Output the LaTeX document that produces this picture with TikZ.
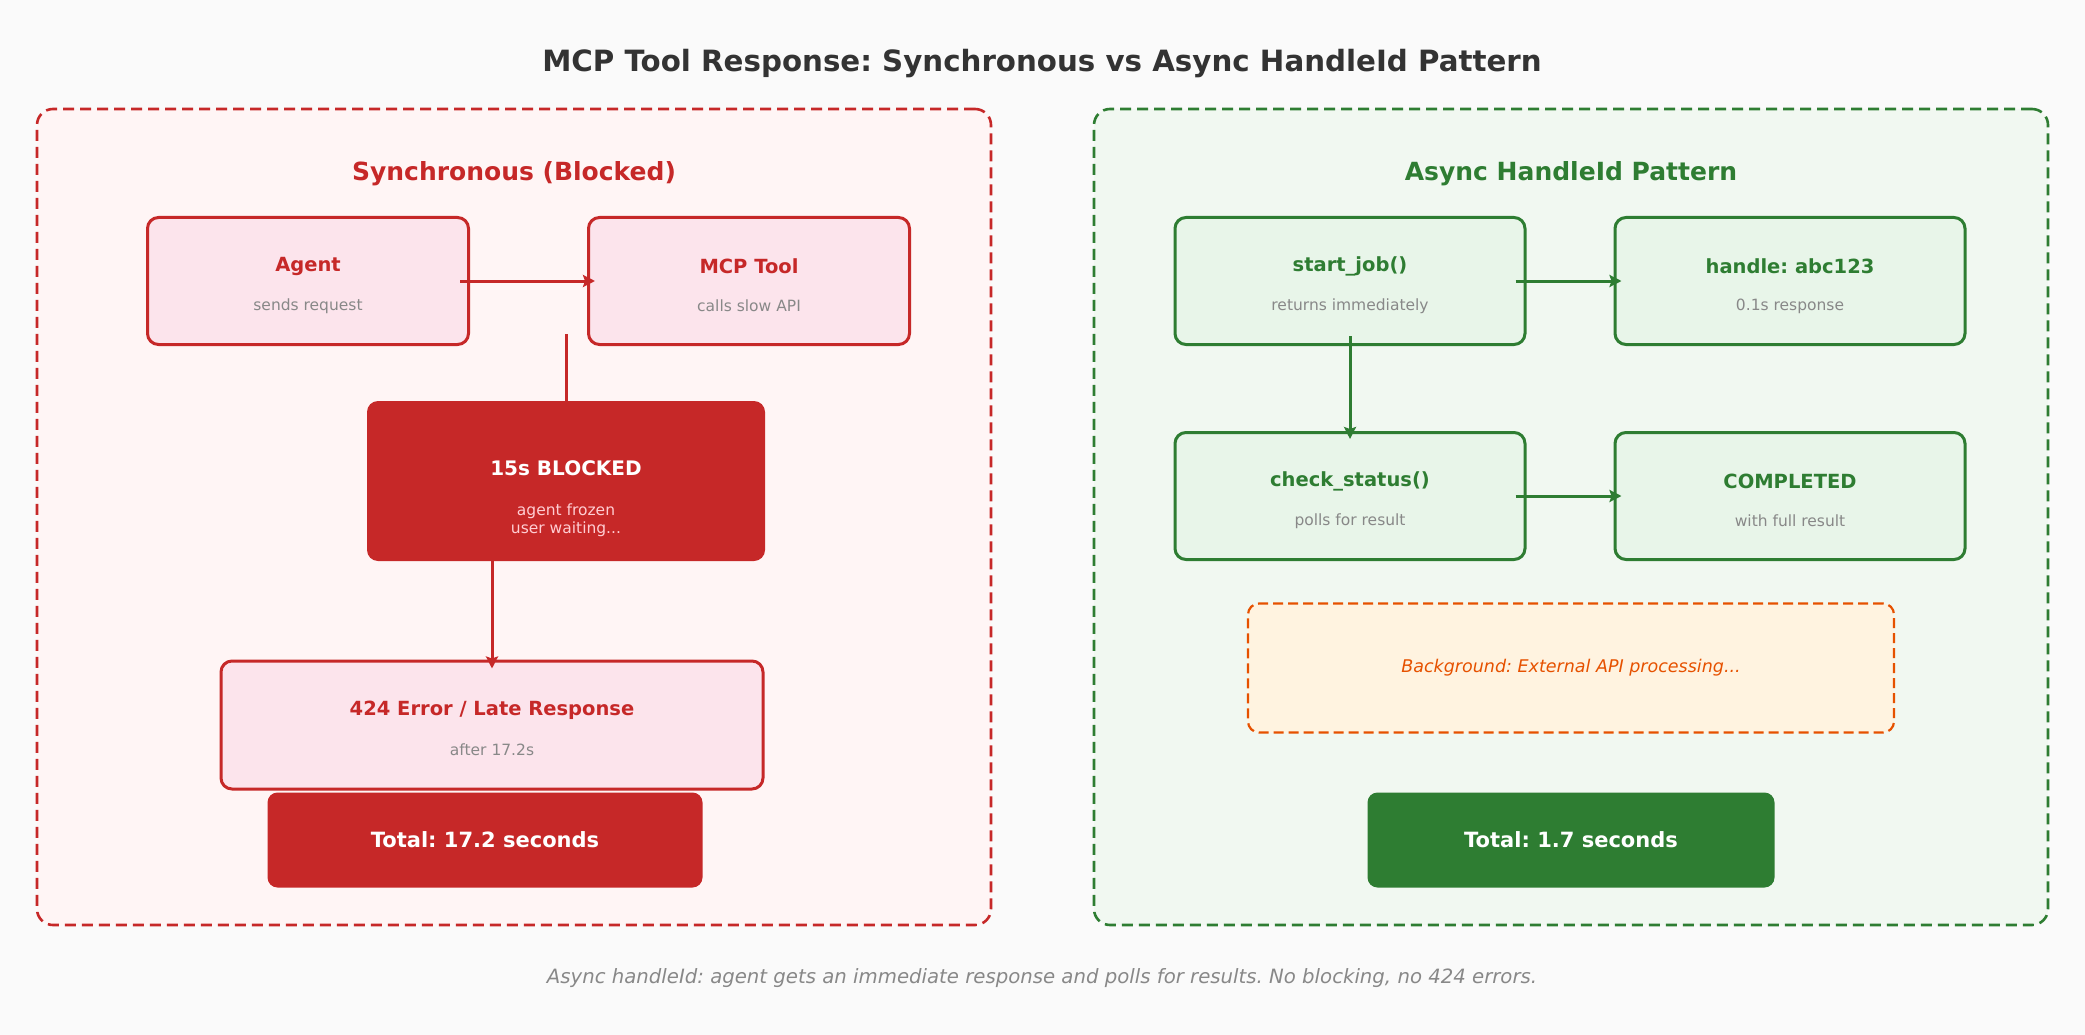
\documentclass[tikz,border=0pt]{standalone}
\usepackage{fontspec}
\setmainfont{DejaVu Sans}
\usetikzlibrary{arrows.meta,calc}
\frenchspacing
\definecolor{pagebg}{HTML}{FAFAFA}
\definecolor{titlec}{HTML}{333333}
\definecolor{redc}{HTML}{C62828}
\definecolor{redpanel}{HTML}{FFF5F5}
\definecolor{redbox}{HTML}{FCE4EC}
\definecolor{greenc}{HTML}{2E7D32}
\definecolor{greenpanel}{HTML}{F1F8F1}
\definecolor{greenbox}{HTML}{E8F5E9}
\definecolor{orangec}{HTML}{E65100}
\definecolor{orangebox}{HTML}{FFF3E0}
\definecolor{subgray}{HTML}{888888}
\definecolor{pinktext}{HTML}{FFCDD2}
\begin{document}
\begin{tikzpicture}[x=1pt,y=-1pt,
  panelbox/.style={draw, line width=2.6pt, dash pattern=on 11pt off 6pt, rounded corners=16pt, inner sep=0pt},
  flowbox/.style={draw, line width=3pt, rounded corners=11pt, inner sep=0pt},
  solidbox/.style={rounded corners=11pt, inner sep=0pt},
  mainlbl/.style={font=\bfseries\fontsize{19.5}{23}\selectfont, inner sep=0pt},
  sublbl/.style={font=\fontsize{15.5}{18}\selectfont, text=subgray, inner sep=0pt},
  arr/.style={line width=3pt, -{Stealth[length=12pt,width=12pt,inset=2pt]}},
  plain/.style={line width=3pt}
]
\fill[pagebg] (0,0) rectangle (2085,1035);
\useasboundingbox (0,0) rectangle (2085,1035);

% title
\node[font=\bfseries\fontsize{29.3}{34}\selectfont, text=titlec] (title) at (1042,64) {MCP Tool Response: Synchronous vs Async HandleId Pattern};

% panels
\node[panelbox, draw=redc, fill=redpanel, minimum width=954pt, minimum height=816pt] (lpanel) at (514,517) {};
\node[panelbox, draw=greenc, fill=greenpanel, minimum width=954pt, minimum height=816pt] (rpanel) at (1571,517) {};

\node[font=\bfseries\fontsize{25}{30}\selectfont, text=redc] (ltitle) at (514,174) {Synchronous (Blocked)};
\node[font=\bfseries\fontsize{25}{30}\selectfont, text=greenc] (rtitle) at (1571,174) {Async HandleId Pattern};

% ---------- left side ----------
\node[flowbox, draw=redc, fill=redbox, minimum width=321pt, minimum height=127pt] (agent) at (308,281) {};
\node[mainlbl, text=redc] (agentl) at ($(agent.center)+(0,-15)$) {Agent};
\node[sublbl] (agents) at ($(agent.center)+(0,25)$) {sends request};

\node[flowbox, draw=redc, fill=redbox, minimum width=321pt, minimum height=127pt] (mcp) at (749,281) {};
\node[mainlbl, text=redc] (mcpl) at ($(mcp.center)+(0,-15)$) {MCP Tool};
\node[sublbl] (mcps) at ($(mcp.center)+(0,25)$) {calls slow API};

\draw[arr, redc] ($(agent.east)+(-10,0)$) -- ($(mcp.west)+(8,0)$);

\node[solidbox, fill=redc, minimum width=398pt, minimum height=160pt] (blocked) at (566,481) {};
\node[font=\bfseries\fontsize{20}{24}\selectfont, text=white, inner sep=0pt] (blockedl) at ($(blocked.center)+(0,-13)$) {15s BLOCKED};
\node[font=\fontsize{15.5}{18}\selectfont, text=pinktext, align=center, inner sep=0pt] (blockeds) at ($(blocked.center)+(0,39)$) {agent frozen\\user waiting...};

\coordinate (wait) at (566,334);
\draw[arr, redc] (wait) -- ($(blocked.north)+(0,62)$);

\node[flowbox, draw=redc, fill=redbox, minimum width=542pt, minimum height=128pt] (error) at (492,725) {};
\node[mainlbl, text=redc] (errorl) at ($(error.center)+(0,-15)$) {424 Error / Late Response};
\node[sublbl] (errors) at ($(error.center)+(0,25)$) {after 17.2s};

\draw[arr, redc] (blocked.south -| error.north) -- ($(error.north)+(0,9)$);

\node[solidbox, rounded corners=10pt, fill=redc, minimum width=435pt, minimum height=95pt] (ltotal) at (485,840) {};
\node[font=\bfseries\fontsize{21}{25}\selectfont, text=white, inner sep=0pt] (ltotall) at (ltotal.center) {Total: 17.2 seconds};

% ---------- right side ----------
\node[flowbox, draw=greenc, fill=greenbox, minimum width=350pt, minimum height=127pt] (start) at (1350,281) {};
\node[mainlbl, text=greenc] (startl) at ($(start.center)+(0,-15)$) {start\_job()};
\node[sublbl] (starts) at ($(start.center)+(0,25)$) {returns immediately};

\node[flowbox, draw=greenc, fill=greenbox, minimum width=350pt, minimum height=127pt] (handle) at (1790,281) {};
\node[mainlbl, text=greenc] (handlel) at ($(handle.center)+(0,-15)$) {handle: abc123};
\node[sublbl] (handles) at ($(handle.center)+(0,25)$) {0.1s response};

\node[flowbox, draw=greenc, fill=greenbox, minimum width=350pt, minimum height=127pt] (check) at (1350,496) {};
\node[mainlbl, text=greenc] (checkl) at ($(check.center)+(0,-15)$) {check\_status()};
\node[sublbl] (checks) at ($(check.center)+(0,25)$) {polls for result};

\node[flowbox, draw=greenc, fill=greenbox, minimum width=350pt, minimum height=127pt] (done) at (1790,496) {};
\node[mainlbl, text=greenc] (donel) at ($(done.center)+(0,-15)$) {COMPLETED};
\node[sublbl] (dones) at ($(done.center)+(0,25)$) {with full result};

\draw[arr, greenc] ($(start.east)+(-11,0)$) -- ($(handle.west)+(8,0)$);
\draw[arr, greenc] ($(check.east)+(-11,0)$) -- ($(done.west)+(8,0)$);
\draw[arr, greenc] ($(start.south)+(0,-10)$) -- ($(check.north)+(0,8)$);

\node[draw=orangec, fill=orangebox, line width=2.2pt, dash pattern=on 10pt off 5pt, rounded corners=11pt, inner sep=0pt, minimum width=646pt, minimum height=129pt] (bg) at (1571,668) {};
\node[font=\itshape\fontsize{17.5}{21}\selectfont, text=orangec, inner sep=0pt] (bgl) at (bg.center) {Background: External API processing...};

\node[solidbox, rounded corners=10pt, fill=greenc, minimum width=407pt, minimum height=95pt] (rtotal) at (1571,840) {};
\node[font=\bfseries\fontsize{21}{25}\selectfont, text=white, inner sep=0pt] (rtotall) at (rtotal.center) {Total: 1.7 seconds};

% footer
\node[font=\itshape\fontsize{19.7}{23}\selectfont, text=subgray] (footer) at (1042,978) {Async handleId: agent gets an immediate response and polls for results. No blocking, no 424 errors.};
\end{tikzpicture}
\end{document}
